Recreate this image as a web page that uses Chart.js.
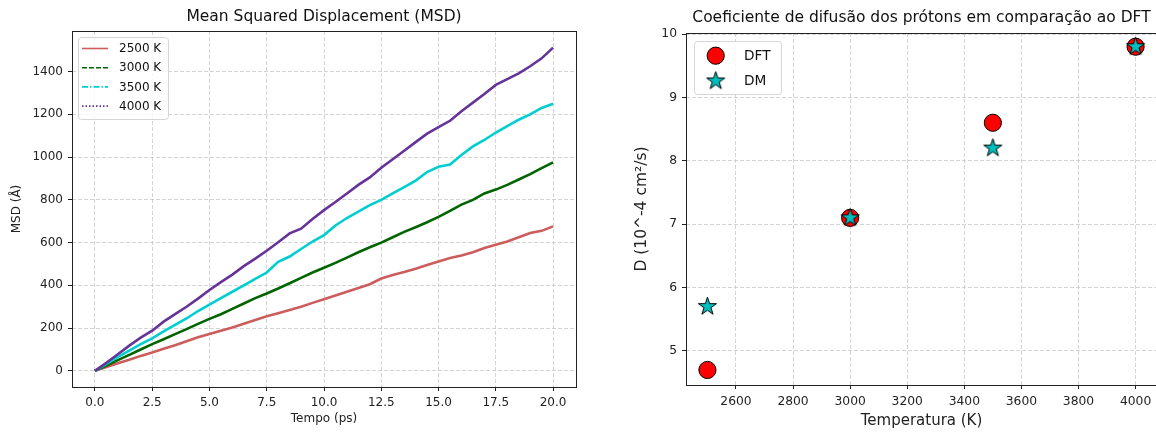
<!DOCTYPE html>
<html>
<head>
<meta charset="utf-8">
<script src="https://cdn.jsdelivr.net/npm/chart.js@4.4.1/dist/chart.umd.min.js"></script>
<style>
  html, body { margin: 0; padding: 0; background: #fff; overflow: hidden; }
  #wrap { position: relative; width: 1156px; height: 432px; overflow: hidden; background: #fff; }
  #msd { position: absolute; left: 0; top: 0; }
  #dif { position: absolute; left: 580px; top: 0; }
</style>
</head>
<body>
<div id="wrap">
  <canvas id="msd" width="580" height="432"></canvas>
  <canvas id="dif" width="600" height="432"></canvas>
</div>
<script>
// MSD chart data (tempo em ps)
const tempo = [0, 0.5, 1, 1.5, 2, 2.5, 3, 3.5, 4, 4.5, 5, 5.5, 6, 6.5, 7, 7.5, 8, 8.5, 9, 9.5,
  10, 10.5, 11, 11.5, 12, 12.5, 13, 13.5, 14, 14.5, 15, 15.5, 16, 16.5, 17, 17.5, 18, 18.5, 19, 19.5, 20];
const msd_2500 = [0, 18, 36, 52, 70, 86, 103, 120, 138, 157, 172, 187, 203, 220, 238, 255, 270, 285, 300, 318,
  335, 352, 370, 388, 405, 432, 448, 462, 478, 495, 512, 528, 540, 555, 575, 590, 605, 625, 645, 655, 676];
const msd_3000 = [0, 25, 50, 75, 100, 125, 148, 172, 195, 220, 243, 265, 290, 315, 340, 362, 385, 410, 435, 460,
  482, 505, 530, 555, 578, 600, 625, 650, 672, 695, 720, 748, 778, 800, 830, 848, 870, 895, 920, 948, 975];
const msd_3500 = [0, 32, 65, 95, 125, 152, 185, 215, 245, 280, 310, 340, 370, 400, 430, 460, 510, 535, 570, 605,
  635, 680, 715, 745, 775, 800, 830, 860, 890, 930, 955, 965, 1010, 1050, 1080, 1115, 1145, 1175, 1200, 1230, 1250];
const msd_4000 = [0, 38, 78, 118, 155, 188, 230, 265, 300, 338, 378, 415, 450, 490, 525, 562, 602, 643, 665, 710,
  752, 790, 830, 870, 905, 950, 990, 1030, 1070, 1110, 1140, 1170, 1215, 1255, 1295, 1338, 1365, 1392, 1425, 1462, 1512];
const msd_labels = ["2500 K", "3000 K", "3500 K", "4000 K"];
const msd_x_ticks = [0, 2.5, 5, 7.5, 10, 12.5, 15, 17.5, 20];
const msd_y_ticks = [0, 200, 400, 600, 800, 1000, 1200, 1400];

// difusao chart data
const temperatura = [2500, 3000, 3500, 4000];
const d_dft = [4.7, 7.1, 8.6, 9.8];
const d_dm = [5.7, 7.1, 8.2, 9.8];
const dif_x_ticks = [2600, 2800, 3000, 3200, 3400, 3600, 3800, 4000];
const dif_y_ticks = [5, 6, 7, 8, 9, 10];

const FONT = "'DejaVu Sans', sans-serif";
Chart.defaults.font.family = FONT;
Chart.defaults.color = "#222";

const GRID_COLOR = "#c9c9c9";

// star marker like matplotlib '*'
const makeStar = (R) => {
  const c = document.createElement("canvas");
  const s = Math.ceil(R * 2 + 4);
  c.width = s; c.height = s;
  const g = c.getContext("2d");
  const r = R * 0.382;
  g.beginPath();
  for (let i = 0; i < 10; i++) {
    const rad = i % 2 === 0 ? R : r;
    const a = -Math.PI / 2 + i * Math.PI / 5;
    const px = s / 2 + rad * Math.cos(a), py = s / 2 + rad * Math.sin(a);
    if (i === 0) g.moveTo(px, py); else g.lineTo(px, py);
  }
  g.closePath();
  g.fillStyle = "#00bfbf";
  g.fill();
  g.lineWidth = 1;
  g.strokeStyle = "#000";
  g.stroke();
  return c;
};
const starImg = makeStar(9.5);

// frame (4 spines) + title
const framePlugin = {
  id: "frame",
  afterDraw(chart, args, opts) {
    const { ctx, chartArea: a } = chart;
    ctx.save();
    ctx.strokeStyle = "#222";
    ctx.lineWidth = 1;
    const l = Math.round(a.left) + 0.5, t = Math.round(a.top) + 0.5;
    ctx.strokeRect(l, t, Math.round(a.right) - Math.round(a.left), Math.round(a.bottom) - Math.round(a.top));
    ctx.fillStyle = "#111";
    ctx.font = opts.titleSize + "px " + FONT;
    ctx.textAlign = "center";
    ctx.textBaseline = "middle";
    ctx.fillText(opts.title, (a.left + a.right) / 2, opts.titleY);
    ctx.restore();
  }
};

// legend box inside the plot (upper left)
const legendPlugin = {
  id: "legendBox",
  afterDraw(chart, args, opts) {
    const ctx = chart.ctx;
    const b = opts.box;
    ctx.save();
    ctx.beginPath();
    ctx.roundRect(b.x + 0.5, b.y + 0.5, b.w, b.h, 3);
    ctx.fillStyle = "rgba(255,255,255,0.8)";
    ctx.fill();
    ctx.strokeStyle = "#d5d5d5";
    ctx.lineWidth = 1;
    ctx.stroke();
    ctx.font = opts.fontSize + "px " + FONT;
    ctx.textBaseline = "middle";
    ctx.textAlign = "left";
    chart.data.datasets.forEach((ds, i) => {
      const y = opts.rowY + i * opts.rowStep;
      if (opts.kind === "line") {
        ctx.save();
        ctx.strokeStyle = ds.borderColor;
        ctx.lineWidth = 1.6;
        ctx.setLineDash(opts.dashes[i]);
        ctx.beginPath();
        ctx.moveTo(opts.handleX, y);
        ctx.lineTo(opts.handleX + opts.handleW, y);
        ctx.stroke();
        ctx.restore();
      } else {
        if (ds.pointStyle === "circle") {
          ctx.beginPath();
          ctx.arc(opts.handleX, y, ds.pointRadius, 0, Math.PI * 2);
          ctx.fillStyle = ds.backgroundColor;
          ctx.fill();
          ctx.lineWidth = ds.borderWidth;
          ctx.strokeStyle = ds.borderColor;
          ctx.stroke();
        } else {
          ctx.drawImage(ds.pointStyle, opts.handleX - ds.pointStyle.width / 2, y - ds.pointStyle.height / 2);
        }
      }
      ctx.fillStyle = "#111";
      ctx.fillText(ds.label, opts.textX, y + 0.5);
    });
    ctx.restore();
  }
};

const axisCommon = (tickSize) => ({
  type: "linear",
  grid: {
    color: GRID_COLOR, lineWidth: 0.8, tickLength: 4, tickColor: "#222", tickWidth: 1, tickBorderDash: []
  },
  border: { display: false, dash: [4, 2] },
  ticks: { font: { size: tickSize }, color: "#222", padding: 5, maxRotation: 0, callback: v => String(v) }
});

// ---- MSD chart
const msdColors = ["#cd5c5c", "#006400", "#00ced1", "#663399"];
const msdSeries = [msd_2500, msd_3000, msd_3500, msd_4000];

const msdX = axisCommon(12);
Object.assign(msdX, {
  min: -1, max: 21,
  afterBuildTicks: s => { s.ticks = msd_x_ticks.map(v => ({ value: v })); },
  afterFit: s => { s.height = 45; },
  title: { display: true, text: "Tempo (ps)", font: { size: 12 }, color: "#222", padding: { top: 0, bottom: 6 } }
});
msdX.ticks.callback = v => Number(v).toFixed(1);

const msdY = axisCommon(12);
Object.assign(msdY, {
  min: -75.6, max: 1590,
  afterBuildTicks: s => { s.ticks = msd_y_ticks.map(v => ({ value: v })); },
  afterFit: s => { s.width = 72; },
  title: { display: true, text: "MSD (Å)", font: { size: 12 }, color: "#222", padding: { top: 10, bottom: 0 } }
});

new Chart(document.getElementById("msd"), {
  type: "line",
  data: {
    datasets: msdSeries.map((vals, i) => ({
      label: msd_labels[i],
      data: tempo.map((t, j) => ({ x: t, y: vals[j] })),
      borderColor: msdColors[i],
      backgroundColor: msdColors[i],
      borderWidth: 2.6,
      pointRadius: 0,
      tension: 0,
      fill: false,
      order: 3 - i
    }))
  },
  options: {
    responsive: false,
    animation: false,
    devicePixelRatio: 1,
    layout: { padding: { left: 0, right: 4, top: 31, bottom: 0 } },
    scales: { x: msdX, y: msdY },
    plugins: {
      legend: { display: false },
      tooltip: { enabled: false },
      frame: { title: "Mean Squared Displacement (MSD)", titleSize: 15.5, titleY: 17 },
      legendBox: {
        kind: "line",
        box: { x: 78, y: 37, w: 90, h: 82 },
        rowY: 48.5, rowStep: 19.2,
        handleX: 82, handleW: 26, textX: 119, fontSize: 12,
        dashes: [[], [5, 2], [6, 2, 1.5, 2], [1.5, 2]]
      }
    }
  },
  plugins: [framePlugin, legendPlugin]
});

// ---- difusao chart (canvas is wider than the window; the right spine falls at the edge)
const difX = axisCommon(12.3);
Object.assign(difX, {
  min: 2425, max: 4075,
  afterBuildTicks: s => { s.ticks = dif_x_ticks.map(v => ({ value: v })); },
  afterFit: s => { s.height = 47; },
  title: { display: true, text: "Temperatura (K)", font: { size: 15 }, color: "#222", padding: { top: 0, bottom: 2 } }
});

const difY = axisCommon(12.3);
Object.assign(difY, {
  min: 4.463, max: 10.016,
  afterBuildTicks: s => { s.ticks = dif_y_ticks.map(v => ({ value: v })); },
  afterFit: s => { s.width = 106; },
  title: { display: true, text: "D (10^-4 cm²/s)", font: { size: 15.5 }, color: "#222", padding: { top: 53, bottom: 0 } }
});

new Chart(document.getElementById("dif"), {
  type: "scatter",
  data: {
    datasets: [
      {
        label: "DFT",
        data: temperatura.map((t, i) => ({ x: t, y: d_dft[i] })),
        pointStyle: "circle",
        pointRadius: 8.6,
        backgroundColor: "#ff0000",
        borderColor: "#000",
        borderWidth: 1,
        order: 1
      },
      {
        label: "DM",
        data: temperatura.map((t, i) => ({ x: t, y: d_dm[i] })),
        pointStyle: starImg,
        pointRadius: 9,
        backgroundColor: "#00bfbf",
        borderColor: "#000",
        borderWidth: 1,
        order: 0
      }
    ]
  },
  options: {
    responsive: false,
    animation: false,
    devicePixelRatio: 1,
    layout: { padding: { left: 0, right: 23, top: 33, bottom: 0 } },
    scales: { x: difX, y: difY },
    plugins: {
      legend: { display: false },
      tooltip: { enabled: false },
      frame: { title: "Coeficiente de difusão dos prótons em comparação ao DFT", titleSize: 15.5, titleY: 18 },
      legendBox: {
        kind: "marker",
        box: { x: 114, y: 41, w: 87, h: 53 },
        rowY: 55.7, rowStep: 25.3,
        handleX: 135.7, textX: 164, fontSize: 13.7
      }
    }
  },
  plugins: [framePlugin, legendPlugin]
});
</script>
</body>
</html>
